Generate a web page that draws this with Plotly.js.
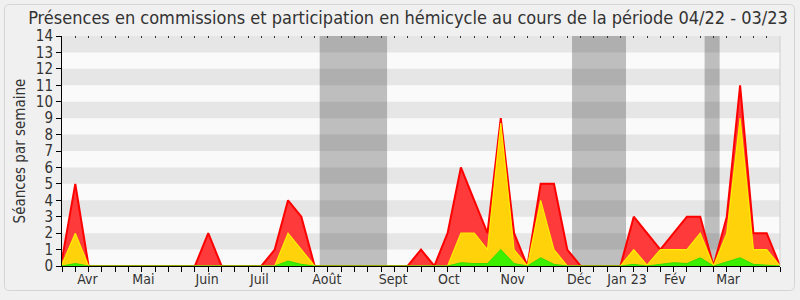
<!DOCTYPE html>
<html>
<head>
<meta charset="utf-8">
<script src="https://cdn.plot.ly/plotly-3.0.1.min.js"></script>
<style>html,body{margin:0;padding:0;background:#f0f0f0;}#chart{width:800px;height:300px;}</style>
</head>
<body>
<div id="chart"></div>
<script>
// Weekly index 0..54 (04/22 - 03/23)
const weeks = Array.from({length: 55}, (_, i) => i);
// Top of red layer (total sessions per week)
const totalTop = [0.4,5,0,0,0,0,0,0,0,0,0,2,0,0,0,0,1,4,3,0,0,0,0,0,0,0,0,1,0,2,6,4,2,9,2,0,5,5,1,0,0,0,0,3,2,1,2,3,3,0,3,11,2,2,0];
// Top of yellow layer
const yellowTop = [0.1,2,0,0,0,0,0,0,0,0,0,0,0,0,0,0,0,2,1,0,0,0,0,0,0,0,0,0,0,0,2,2,1,8.7,1,0,4,1,0,0,0,0,0,1,0.05,1,1,1,2,0,2,9,1,1,0];
// Top of green layer
const greenTop = [0,0.15,0,0,0,0,0,0,0,0,0,0,0,0,0,0,0,0.3,0.1,0,0,0,0,0,0,0,0,0,0,0,0.2,0.15,0.15,1,0.15,0,0.5,0.1,0,0,0,0,0,0.1,0,0.1,0.2,0.15,0.5,0,0.25,0.5,0.1,0.05,0];
// Month labels and their positions (week index)
const monthLabels = ["Avr","Mai","Juin","Juil","Août","Sept","Oct","Nov","Déc","Jan 23","Fév","Mar"];
const monthPos = [1.92,6.12,10.92,14.85,19.92,24.9,29.1,33.9,38.9,42.5,46.1,50.1];
// Parliamentary holidays (week index start/end)
const holidayStart = [19.38, 38.36, 48.33];
const holidayEnd = [24.45, 42.42, 49.46];
const yMax = 14;

const M = {l: 62, r: 20, t: 36, b: 34};
const W = 800, H = 300;
const pw = W - M.l - M.r, ph = H - M.t - M.b;
const px = v => (v - M.l) / pw;
const py = v => (H - M.b - v) / ph;

const shapes = [];
for (let k = 1; k < yMax; k += 2) {
  shapes.push({type:'rect', xref:'paper', yref:'y', x0:0, x1:1, y0:k, y1:k+1,
    fillcolor:'#e6e6e6', line:{width:0}, layer:'below'});
}
for (let h = 0; h < holidayStart.length; h++) {
  shapes.push({type:'rect', xref:'x', yref:'paper', x0:holidayStart[h], x1:holidayEnd[h], y0:0, y1:1,
    fillcolor:'rgba(0,0,0,0.24)', line:{width:0}, layer:'below'});
}
shapes.push({type:'line', xref:'paper', yref:'paper', x0:1, x1:1, y0:0, y1:1, line:{color:'#cfcfcf', width:1}});
// rounded frame around the whole picture
(function(){
  const x0 = 4.5, x1 = 794.5, y0 = 4.5, y1 = 290.5, r = 5;
  const p = 'M ' + px(x0 + r) + ' ' + py(y0) +
    ' L ' + px(x1 - r) + ' ' + py(y0) +
    ' Q ' + px(x1) + ' ' + py(y0) + ' ' + px(x1) + ' ' + py(y0 + r) +
    ' L ' + px(x1) + ' ' + py(y1 - r) +
    ' Q ' + px(x1) + ' ' + py(y1) + ' ' + px(x1 - r) + ' ' + py(y1) +
    ' L ' + px(x0 + r) + ' ' + py(y1) +
    ' Q ' + px(x0) + ' ' + py(y1) + ' ' + px(x0) + ' ' + py(y1 - r) +
    ' L ' + px(x0) + ' ' + py(y0 + r) +
    ' Q ' + px(x0) + ' ' + py(y0) + ' ' + px(x0 + r) + ' ' + py(y0) + ' Z';
  shapes.push({type:'path', xref:'paper', yref:'paper', path:p, layer:'below',
    line:{color:'#d4d4d4', width:1}});
})();

const traces = [
  {x: weeks, y: totalTop, type:'scatter', mode:'lines', fill:'tozeroy',
   fillcolor:'#ff3a3a', line:{color:'#ff0000', width:2}, hoverinfo:'skip'},
  {x: weeks, y: yellowTop, type:'scatter', mode:'lines', fill:'tozeroy',
   fillcolor:'#ffd20a', line:{color:'#ffee00', width:1.2}, hoverinfo:'skip'},
  {x: weeks, y: greenTop, type:'scatter', mode:'lines', fill:'tozeroy',
   fillcolor:'#3cee00', line:{color:'#33dd00', width:1}, hoverinfo:'skip'},
  {x: [0, 54], y: [0, 0], xaxis:'x2', type:'scatter', mode:'lines',
   line:{width:0, color:'rgba(0,0,0,0)'}, hoverinfo:'skip', showlegend:false}
];

const fontFam = '"DejaVu Sans Condensed", "DejaVu Sans", sans-serif';
const layout = {
  width: W, height: H,
  margin: M,
  paper_bgcolor: '#f0f0f0',
  plot_bgcolor: '#fafafa',
  showlegend: false,
  font: {family: fontFam, color: '#333333', size: 14},
  title: {text: 'Présences en commissions et participation en hémicycle au cours de la période 04/22 - 03/23',
    font: {family: fontFam, size: 18, color: '#333333'}, x: 0.51, xanchor: 'center', y: 0.94, yanchor: 'middle'},
  xaxis: {
    range: [0, 54], showgrid: false, zeroline: false,
    tickmode: 'array', tickvals: monthPos, ticktext: monthLabels, ticks: '',
    tickfont: {family: fontFam, size: 14, color: '#333333'},
    showline: true, linecolor: '#000000', linewidth: 1,
    minor: {ticks: 'outside', ticklen: 5, tickmode: 'linear', tick0: 0, dtick: 1, tickcolor: '#000000', showgrid: false}
  },
  xaxis2: {
    overlaying: 'x', side: 'top', anchor: 'y', range: [0, 54], showgrid: false, zeroline: false,
    tickmode: 'linear', tick0: 0, dtick: 1, ticks: 'inside', ticklen: 2, tickcolor: '#333333',
    showticklabels: false, showline: false
  },
  yaxis: {
    range: [0, yMax], tickmode: 'linear', tick0: 0, dtick: 1, showgrid: false, zeroline: false,
    ticks: 'outside', ticklen: 5, tickcolor: '#000000',
    showline: true, linecolor: '#000000', linewidth: 1,
    tickfont: {family: fontFam, size: 15, color: '#333333'},
    title: {text: 'Séances par semaine', font: {family: fontFam, size: 15, color: '#333333'}, standoff: 6}
  },
  shapes: shapes
};

Plotly.newPlot('chart', traces, layout, {staticPlot: true, displayModeBar: false});
</script>
</body>
</html>
